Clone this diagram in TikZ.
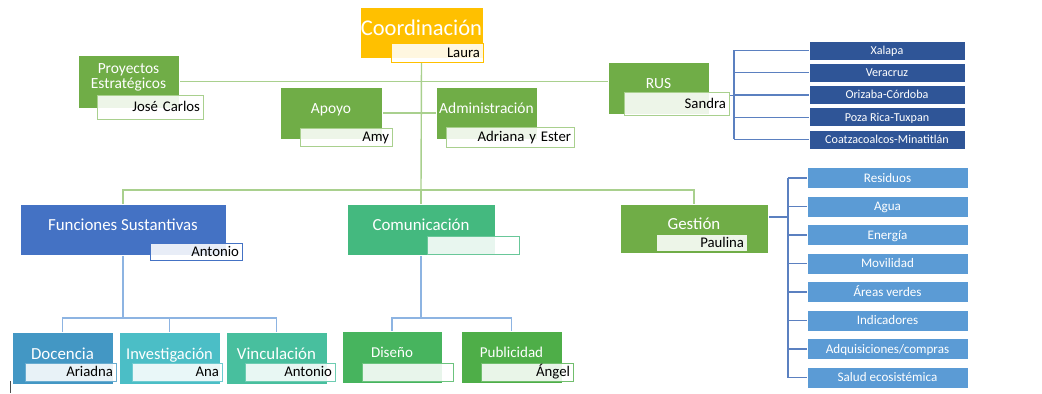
\documentclass[tikz,border=0pt]{standalone}
\usepackage{fontspec}
\setmainfont{Carlito}
\usetikzlibrary{backgrounds}

\definecolor{coordc}{HTML}{FFC000}
\definecolor{leafg}{HTML}{70AD47}
\definecolor{funb}{HTML}{4472C4}
\definecolor{comg}{HTML}{44B97F}
\definecolor{docb}{HTML}{4397C4}
\definecolor{invt}{HTML}{4BBEC6}
\definecolor{vint}{HTML}{48BF9E}
\definecolor{disg}{HTML}{47B45E}
\definecolor{pubg}{HTML}{4EAE48}
\definecolor{rusb}{HTML}{2F5597}
\definecolor{gesb}{HTML}{5B9BD5}
\definecolor{lineg}{HTML}{A9D08E}
\definecolor{lineb}{HTML}{8DB4E2}
\definecolor{lined}{HTML}{5B80C0}

\def\px{0.025cm}

\begin{document}
\begin{tikzpicture}
[x=0.025cm,y=-0.025cm]
\tikzset{unit/.style 2 args={draw=white, line width=.5pt, minimum width=#1*\px, minimum height=#2*\px, inner sep=0pt, text=white, text depth=5.7pt, align=center}}
\tikzset{head/.style={font=\fontsize{#1}{#1}\selectfont, text height=.64*#1pt}}
\tikzset{who/.style 2 args={fill=white, fill opacity=.88, text opacity=1, line width=.6pt, minimum height=#2*\px, text width=(#1-6)*\px, inner xsep=3*\px, inner ysep=0pt, align=right, font=\fontsize{10.5}{12}\selectfont, text height=6.7pt, text depth=0pt}}
\tikzset{item/.style={fill=#1, draw=white, line width=.5pt, text=white, inner sep=0pt, text depth=0pt}}
\tikzset{gline/.style={draw=lineg, line width=1pt}}
\tikzset{bline/.style={draw=lineb, line width=1pt}}
\tikzset{dline/.style={draw=lined, line width=1pt}}

\useasboundingbox (0,0) rectangle (1042,394);

% upper level
\node [unit={123}{51}, head=16, fill=coordc] (coord) at (421.5,32.5) {Coordinación};
\node [who={92}{19}, draw=coordc] (laura) at (437,52.5) {Laura};
\node [unit={101}{53}, fill=leafg, font=\fontsize{11}{10.7}\selectfont, text height=17.7pt, text depth=8pt] (proy) at (128.5,81.5) {Proyectos\\Estratégicos};
\node [who={106}{24}, draw=lineg] (josec) at (150,107) {José Carlos};
\node [unit={102}{52}, head=11, fill=leafg] (apoyo) at (331,113) {Apoyo};
\node [who={92}{18}, draw=lineg] (amy) at (346,137) {Amy};
\node [unit={101}{52}, head=11, fill=leafg] (admin) at (486.5,113) {Administración};
\node [who={128}{20}, draw=lineg] (adriana) at (510,137) {Adriana y Ester};
\node [unit={101}{52}, head=11, fill=leafg] (rus) at (658.5,88) {RUS};
\node [who={105}{23}, draw=lineg] (sandra) at (676.5,103.5) {Sandra};

\foreach \name [count=\i] in {Xalapa,Veracruz,Orizaba-Córdoba,Poza Rica-Tuxpan,Coatzacoalcos-Minatitlán}
	\node [item=rusb, minimum width=156*\px, minimum height=19*\px, font=\fontsize{8.6}{10}\selectfont, text height=5.5pt] (r\i) at (887,{50.5+(\i-1)*22.25}) {\name};

% middle level
\node [unit={206}{51}, head=12, fill=funb] (fun) at (123,229.5) {Funciones Sustantivas};
\node [who={92}{17}, draw=funb] (antf) at (196,251.5) {Antonio};
\node [unit={148}{51}, head=12, fill=comg] (com) at (421,229.5) {Comunicación};
\node [who={92}{18}, draw=comg!80] (comn) at (473,245) {};
\node [unit={148}{49}, head=12, fill=leafg] (ges) at (694,228.5) {Gestión};
\node [who={90}{16}, draw=none] (paulina) at (702,243) {Paulina};

\foreach \name [count=\i] in {Residuos,Agua,Energía,Movilidad,Áreas verdes,Indicadores,Adquisiciones/compras,Salud ecosistémica}
	\node [item=gesb, minimum width=161*\px, minimum height=21*\px, font=\fontsize{9.3}{11}\selectfont, text height=6pt] (g\i) at (887.5,{178+(\i-1)*28.5}) {\name};

% lower level
\node [unit={101}{52}, head=12, fill=docb] (doc) at (62.5,358) {Docencia};
\node [who={91}{18}, draw=docb!80] (ariadna) at (70.5,372) {Ariadna};
\node [unit={101}{52}, head=11.7, fill=invt] (inv) at (169.5,358) {Investigación};
\node [who={90}{18}, draw=invt!80] (ana) at (177,372) {Ana};
\node [unit={101}{52}, head=12, fill=vint] (vin) at (276.5,358) {Vinculación};
\node [who={90}{18}, draw=vint!80] (antv) at (290,372) {Antonio};
\node [unit={100}{52}, head=10.7, fill=disg] (dis) at (392,357) {Diseño};
\node [who={91}{18}, draw=disg!80] (disn) at (407.5,372) {};
\node [unit={101}{52}, head=10.7, fill=pubg] (pub) at (511.5,357) {Publicidad};
\node [who={92}{18}, draw=pubg!80] (angel) at (527,372) {Ángel};

\coordinate (mid) at (421,190);
\coordinate (rbus) at (734,95.5);
\coordinate (gbus) at (788,217);
\coordinate (fbus) at (123,318);
\coordinate (cbus) at (421,318);

\begin{scope}[on background layer]
\draw [gline] (proy.east) -- (proy.east -| rus.west);
\draw [gline] (apoyo.east) -- (admin.west);
\draw [gline] (coord.south |- laura.south) -- (mid);
\draw [gline] (fun.north) |- (mid) -| (ges.north);
\draw [gline] (com.north) -- (mid);

\draw [dline] (sandra.east |- rbus) -- (rbus);
\draw [dline] (rbus |- r1.west) -- (rbus |- r5.west);
\foreach \i in {1,...,5}
	\draw [dline] (rbus |- r\i.west) -- (r\i.west);

\draw [dline] (ges.east |- gbus) -- (gbus);
\draw [dline] (gbus |- g1.west) -- (gbus |- g8.west);
\foreach \i in {1,...,8}
	\draw [dline] (gbus |- g\i.west) -- (g\i.west);

\draw [bline] (fun.south) -- (fbus);
\draw [bline] (doc.north) |- (fbus) -| (vin.north);
\draw [bline] (inv.north) -- (inv.north |- fbus);
\draw [bline] (com.south) -- (cbus);
\draw [bline] (dis.north) |- (cbus) -| (pub.north);
\end{scope}

\draw [gray!60!black, line width=.6pt] (10,381) -- (10,393);
\end{tikzpicture}
\end{document}
